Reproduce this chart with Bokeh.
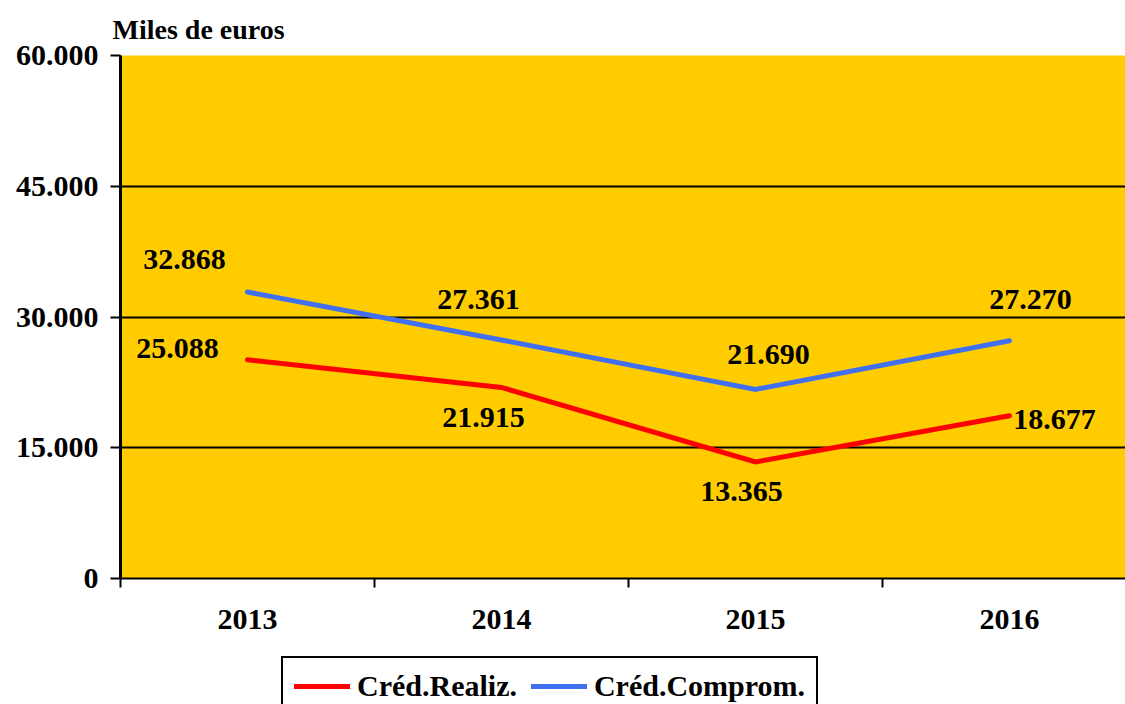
from bokeh.plotting import figure
from bokeh.models import (ColumnDataSource, Range1d, FixedTicker, Legend, LegendItem)
from bokeh.layouts import column
from bokeh.core.properties import value
from bokeh.embed import file_html
from bokeh.resources import INLINE

# ---- data ----
years = ["2013", "2014", "2015", "2016"]
cred_realiz = [25088, 21915, 13365, 18677]
cred_comprom = [32868, 27361, 21690, 27270]
y_ticks = [0, 15000, 30000, 45000, 60000]
series_names = ["Créd.Realiz.", "Créd.Comprom."]
series_colors = ["#FF0000", "#4070F0"]

# label offsets (pixels, screen) for data labels
realiz_dx = [-70, -18, -14, 45]
realiz_dy = [-11, 30, 29, 4]
comprom_dx = [-63, -23, 13, 21]
comprom_dy = [-33, -41, -35, -41]

def fmt(v):
    return f"{v:,}".replace(",", ".")

FONT = "Liberation Serif"
xs = [i + 0.5 for i in range(len(years))]

p = figure(width=1125, height=650, output_backend="svg", toolbar_location=None,
           x_range=Range1d(0, 3.957), y_range=Range1d(0, 60000),
           min_border_left=120, min_border_right=0, min_border_top=55,
           min_border_bottom=72)
p.background_fill_color = "#FFCC00"
p.border_fill_color = "white"
p.outline_line_color = None

p.title.text = "Miles de euros"
p.title.text_font = FONT
p.title.text_font_style = "bold"
p.title.text_font_size = "28px"
p.title.text_color = "black"
p.title.align = "left"
p.title.offset = -8
p.title.standoff = 21

# x axis
p.xaxis.ticker = FixedTicker(ticks=xs, minor_ticks=list(range(len(years) + 1)))
p.xaxis.major_label_overrides = {x: y for x, y in zip(xs, years)}
p.xaxis.major_tick_out = 0
p.xaxis.major_tick_in = 0
p.xaxis.minor_tick_out = 9
p.xaxis.minor_tick_in = 0
p.xaxis.minor_tick_line_color = "black"
p.xaxis.minor_tick_line_width = 2
p.xaxis.axis_line_color = "black"
p.xaxis.axis_line_width = 2
p.xaxis.major_label_text_font = FONT
p.xaxis.major_label_text_font_style = "bold"
p.xaxis.major_label_text_font_size = "30px"
p.xaxis.major_label_text_color = "black"
p.xaxis.major_label_standoff = 22

# y axis
p.yaxis.ticker = FixedTicker(ticks=y_ticks, minor_ticks=[])
p.yaxis.major_label_overrides = {t: fmt(t) for t in y_ticks}
p.yaxis.major_tick_out = 10
p.yaxis.major_tick_in = 0
p.yaxis.major_tick_line_width = 2
p.yaxis.major_tick_line_color = "black"
p.yaxis.axis_line_color = "black"
p.yaxis.axis_line_width = 3
p.yaxis.major_label_text_font = FONT
p.yaxis.major_label_text_font_style = "bold"
p.yaxis.major_label_text_font_size = "30px"
p.yaxis.major_label_text_color = "black"
p.yaxis.major_label_standoff = 12

p.xgrid.grid_line_color = None
p.ygrid.grid_line_color = "black"
p.ygrid.grid_line_width = 2

src_r = ColumnDataSource(dict(x=xs, y=cred_realiz, t=[fmt(v) for v in cred_realiz],
                              dx=realiz_dx, dy=realiz_dy))
src_c = ColumnDataSource(dict(x=xs, y=cred_comprom, t=[fmt(v) for v in cred_comprom],
                              dx=comprom_dx, dy=comprom_dy))

p.line("x", "y", source=src_r, line_color=series_colors[0], line_width=5,
       line_cap="round", line_join="miter")
p.line("x", "y", source=src_c, line_color=series_colors[1], line_width=5,
       line_cap="round", line_join="miter")

for s in (src_r, src_c):
    p.text("x", "y", text="t", source=s, x_offset="dx", y_offset="dy",
           text_font=value(FONT), text_font_style="bold", text_font_size="30px",
           text_align="center", text_baseline="alphabetic", text_color="black")

# ---- legend strip below the chart ----
lg = figure(width=1125, height=54, output_backend="svg", toolbar_location=None,
            x_range=Range1d(0, 1), y_range=Range1d(0, 1),
            min_border_left=0, min_border_right=0, min_border_top=0,
            min_border_bottom=0)
lg.axis.visible = False
lg.grid.visible = False
lg.outline_line_color = None
lg.background_fill_color = "white"
lg.border_fill_color = "white"
items = []
for name, col in zip(series_names, series_colors):
    # off-range proxy line so the legend can draw the series swatch
    rr = lg.line(x=[5, 6], y=[5, 6], line_color=col, line_width=5, line_cap="round")
    items.append(LegendItem(label=name, renderers=[rr]))

legend = Legend(items=items, orientation="horizontal", location=(161, -12),
                border_line_color="black", border_line_width=2, border_line_alpha=1,
                label_text_font=FONT, label_text_font_style="bold",
                label_text_color="black",
                label_text_font_size="30px", glyph_width=56, glyph_height=20,
                label_standoff=7, spacing=14, padding=11, margin=0,
                background_fill_color="white", background_fill_alpha=1)
lg.add_layout(legend, "center")

open("out.html", "w").write(file_html(column(p, lg, spacing=0), INLINE))
